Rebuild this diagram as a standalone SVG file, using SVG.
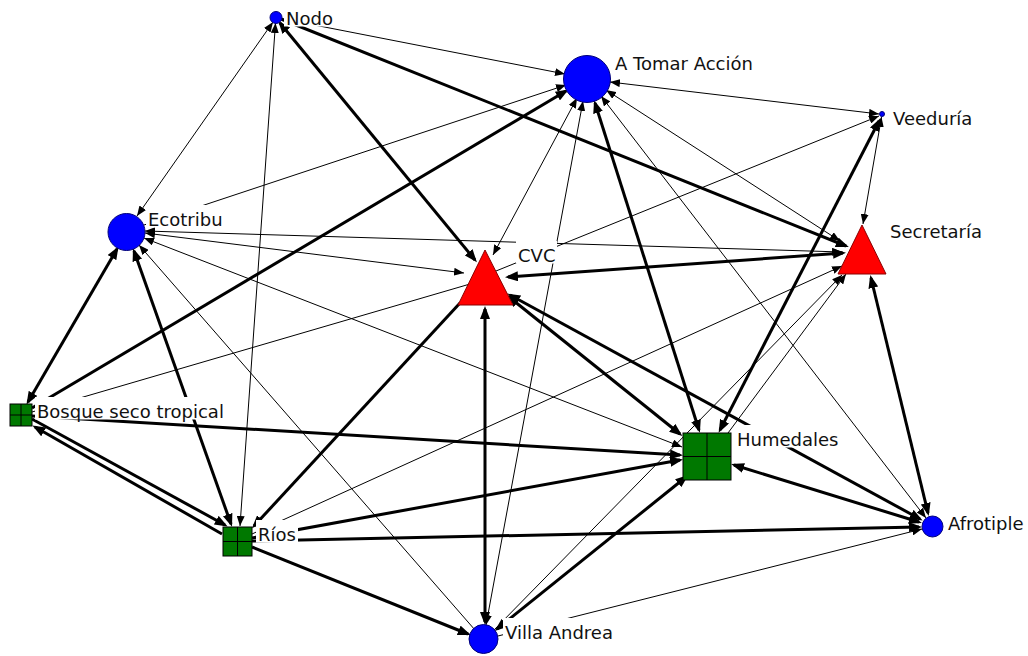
<svg xmlns="http://www.w3.org/2000/svg" width="1028" height="656" viewBox="0 0 1028 656">
<style>
.ed line{stroke:#000;fill:none}
.t{stroke-width:1}
.k{stroke-width:3}
.t.e{marker-end:url(#at)}
.t.b{marker-start:url(#at);marker-end:url(#at)}
.k.e{marker-end:url(#ak)}
.k.b{marker-start:url(#ak);marker-end:url(#ak)}
.c{fill:#0000ff;stroke:#00007a;stroke-width:1}
.tr{fill:#ff0000;stroke:#8a0000;stroke-width:1}
.sq{fill:#007800;stroke:#000;stroke-width:1}
.lb{fill:#fff}
.lt{font-family:"DejaVu Sans",Verdana,sans-serif;font-size:18px;fill:#111}
</style>
<defs>
<marker id="at" viewBox="0 0 10 8" refX="10" refY="4" markerWidth="10" markerHeight="8" markerUnits="userSpaceOnUse" orient="auto-start-reverse"><path d="M0,0L10,4L0,8z" fill="#000"/></marker>
<marker id="ak" viewBox="0 0 13 10" refX="10" refY="5" markerWidth="13" markerHeight="10" markerUnits="userSpaceOnUse" orient="auto-start-reverse"><path d="M0,0L13,5L0,10z" fill="#000"/></marker>
</defs>
<rect width="1028" height="656" fill="#fff"/>
<g id="connectors" class="ed">
<line class="t e" x1="281" y1="18.5" x2="565" y2="74"/>
<line class="k e" x1="281" y1="19" x2="846" y2="246"/>
<line class="k b" x1="280" y1="23" x2="475" y2="260"/>
<line class="t b" x1="137" y1="216" x2="273" y2="22"/>
<line class="t b" x1="275.5" y1="23" x2="240" y2="526"/>
<line class="t e" x1="144" y1="225" x2="566" y2="85"/>
<line class="k e" x1="32" y1="408" x2="566" y2="91"/>
<line class="t b" x1="577" y1="98" x2="493" y2="255"/>
<line class="k b" x1="595" y1="103" x2="699" y2="430"/>
<line class="t b" x1="486" y1="625" x2="583" y2="101"/>
<line class="t b" x1="610" y1="82" x2="879" y2="114"/>
<line class="t b" x1="606" y1="90" x2="840" y2="241"/>
<line class="t b" x1="601" y1="96" x2="926" y2="518"/>
<line class="t b" x1="881.5" y1="117" x2="863" y2="224"/>
<line class="t e" x1="496" y1="271" x2="879" y2="116"/>
<line class="k b" x1="879" y1="121" x2="720" y2="430"/>
<line class="t b" x1="145" y1="233" x2="464" y2="273"/>
<line class="t b" x1="145" y1="231" x2="842" y2="252"/>
<line class="t b" x1="144" y1="238" x2="682" y2="447"/>
<line class="t e" x1="475" y1="630" x2="139" y2="245"/>
<line class="k b" x1="117" y1="249" x2="28" y2="402"/>
<line class="k b" x1="134" y1="251" x2="231" y2="524"/>
<line class="t" x1="32" y1="412" x2="470" y2="284"/>
<line class="k e" x1="460" y1="303" x2="254" y2="526"/>
<line class="k b" x1="485" y1="309" x2="485" y2="622"/>
<line class="k b" x1="508" y1="277" x2="843" y2="253"/>
<line class="k b" x1="509" y1="297" x2="680" y2="434"/>
<line class="k b" x1="510" y1="295" x2="920" y2="519"/>
<line class="k e" x1="32" y1="416" x2="680" y2="455"/>
<line class="k e" x1="252" y1="538" x2="680" y2="460"/>
<line class="k e" x1="252" y1="541" x2="919" y2="527"/>
<line class="k e" x1="252" y1="547" x2="468" y2="634"/>
<line class="k e" x1="32" y1="419" x2="225" y2="525"/>
<line class="k e" x1="222" y1="534" x2="35" y2="427"/>
<line class="k b" x1="734" y1="465" x2="919" y2="522"/>
<line class="k b" x1="871" y1="278" x2="928" y2="513"/>
<line class="k b" x1="686" y1="477" x2="497" y2="629"/>
<line class="t e" x1="252" y1="534" x2="842" y2="266"/>
<line class="t e" x1="494" y1="630" x2="842" y2="275"/>
<line class="t e" x1="728" y1="433" x2="846" y2="274"/>
<line class="t e" x1="498" y1="636" x2="922" y2="529"/>
</g>
<g id="node-nodo">
<circle class="c" cx="276" cy="17.5" r="6"/>
<rect class="lb" x="284" y="4" width="51" height="22.5"/>
<text class="lt" x="286" y="25">Nodo</text>
</g>
<g id="node-atomaraccion">
<circle class="c" cx="587" cy="79" r="23.5"/>
<rect class="lb" x="613" y="49" width="145" height="22.5"/>
<text class="lt" x="615" y="70">A Tomar Acción</text>
</g>
<g id="node-veeduria">
<circle class="c" cx="882" cy="114" r="2.5"/>
<rect class="lb" x="891" y="104" width="85" height="22.5"/>
<text class="lt" x="893" y="125">Veeduría</text>
</g>
<g id="node-ecotribu">
<circle class="c" cx="126.5" cy="232" r="18.5"/>
<rect class="lb" x="146" y="205" width="79" height="22.5"/>
<text class="lt" x="148" y="226">Ecotribu</text>
</g>
<g id="node-cvc">
<polygon class="tr" points="485,250 458,305 513,305"/>
<rect class="lb" x="516" y="241" width="41" height="22.5"/>
<text class="lt" x="518" y="262">CVC</text>
</g>
<g id="node-secretaria">
<polygon class="tr" points="862,225 838,274 886,274"/>
<rect class="lb" x="888" y="217" width="96" height="22.5"/>
<text class="lt" x="890" y="238">Secretaría</text>
</g>
<g id="node-bosque">
<rect class="sq" x="10" y="404" width="22" height="22"/>
<path d="M21,404V426M10,415H32" stroke="#000" stroke-width="1"/>
<rect class="lb" x="35" y="397" width="191" height="22.5"/>
<text class="lt" x="37" y="418">Bosque seco tropical</text>
</g>
<g id="node-rios">
<rect class="sq" x="223" y="527" width="29" height="29"/>
<path d="M237.5,527V556M223,541.5H252" stroke="#000" stroke-width="1"/>
<rect class="lb" x="256" y="520" width="42" height="22.5"/>
<text class="lt" x="258" y="541">Ríos</text>
</g>
<g id="node-humedales">
<rect class="sq" x="683" y="433" width="48" height="47"/>
<path d="M707,433V480M683,456.5H731" stroke="#000" stroke-width="1"/>
<rect class="lb" x="735" y="425" width="106" height="22.5"/>
<text class="lt" x="737" y="446">Humedales</text>
</g>
<g id="node-afrotiple">
<circle class="c" cx="932.5" cy="526.5" r="10.5"/>
<rect class="lb" x="946" y="509" width="81" height="22.5"/>
<text class="lt" x="948" y="530">Afrotiple</text>
</g>
<g id="node-villaandrea">
<circle class="c" cx="483.5" cy="639" r="14.5"/>
<rect class="lb" x="503" y="618" width="113" height="22.5"/>
<text class="lt" x="505" y="639">Villa Andrea</text>
</g>
</svg>
